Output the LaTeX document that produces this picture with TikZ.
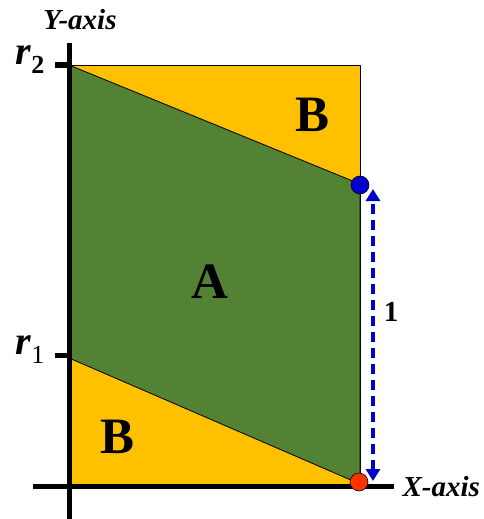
\documentclass[tikz,border=0pt]{standalone}
\usepackage{fontspec}
\setmainfont{Liberation Serif}
\usetikzlibrary{arrows.meta}
\definecolor{byel}{HTML}{FFC000}
\definecolor{bgrn}{HTML}{548235}
\definecolor{bblu}{HTML}{0000CC}
\definecolor{bred}{HTML}{FF3300}
\tikzset{
  axisline/.style={line width=5pt},
  tickline/.style={line width=5pt},
  edge/.style={line width=0.8pt, line join=round},
  dot/.style={circle, draw=black, line width=0.6pt, minimum size=18pt, inner sep=0pt},
  bigletter/.style={font=\fontsize{51}{51}\selectfont\bfseries},
  axlabel/.style={font=\fontsize{29}{29}\selectfont\bfseries\itshape},
  rlabel/.style={font=\fontsize{40}{40}\selectfont\bfseries\itshape},
  unitarrow/.style={bblu, line width=3.2pt, dash pattern=on 10pt off 6pt, {Triangle[length=12pt,width=14pt]}-{Triangle[length=12pt,width=14pt]}}
}
\begin{document}
\begin{tikzpicture}[x=1pt,y=-1pt]
\useasboundingbox (0,0) rectangle (484,519);
% regions
\draw[edge, fill=byel] (69,65) rectangle (360,485);
\draw[edge, fill=bgrn] (69,65) -- (360,184) -- (360,484) -- (69,358) -- cycle;
% axes
\draw[axisline] (69,43) -- (69,519);
\draw[axisline] (33,486) -- (394,486);
\draw[tickline] (55,65) -- (69,65);
\draw[tickline] (55,355) -- (69,355);
% points
\node[dot, fill=bblu] (pt) at (360,185) {};
\node[dot, fill=bred] (pb) at (359,482) {};
\coordinate (at) at (373,189);
\coordinate (ab) at (373,481);
\draw[unitarrow] (ab) -- (at);
% labels
\node[font=\fontsize{29}{29}\selectfont\bfseries] (one) at (391,312) {1};
\node[axlabel] (ylab) at (80,20) {Y-axis};
\node[axlabel, anchor=west] (xlab) at (399,487) {X-axis};
\node[rlabel] (r2) at (30,60) {r\raisebox{-9pt}{\fontsize{26}{26}\selectfont\upshape 2}};
\node[rlabel] (r1) at (30,350) {r\raisebox{-9pt}{\fontsize{26}{26}\selectfont\mdseries\upshape 1}};
\node[bigletter] (bt) at (313,115) {B};
\node[bigletter] (a) at (210,282) {A};
\node[bigletter] (bb) at (118,437) {B};
\end{tikzpicture}
\end{document}
